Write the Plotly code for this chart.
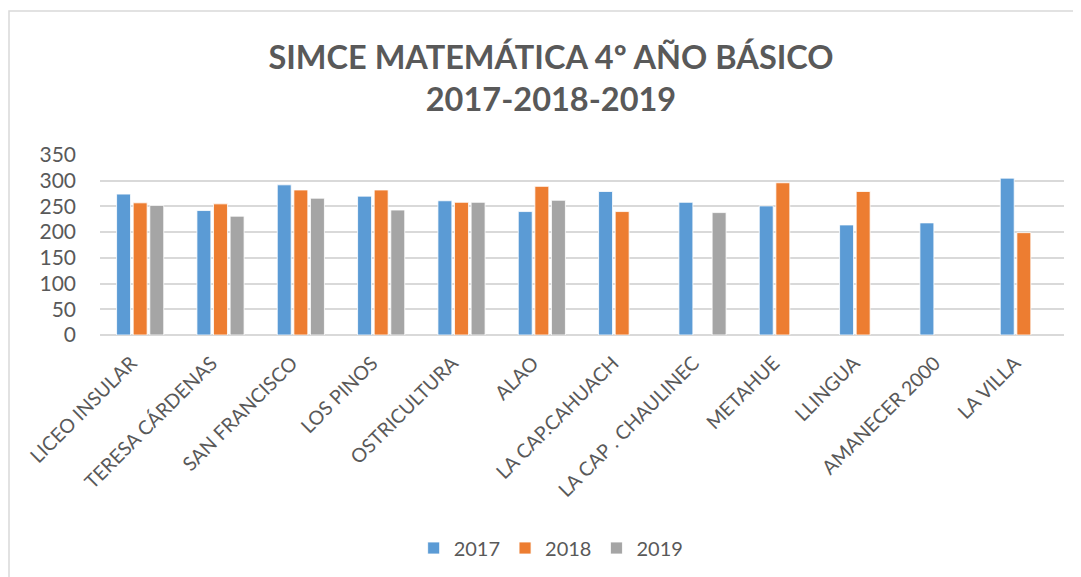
import plotly.graph_objects as go

categories = ["LICEO INSULAR", "TERESA CÁRDENAS", "SAN FRANCISCO", "LOS PINOS",
              "OSTRICULTURA", "ALAO", "LA CAP.CAHUACH", "LA CAP . CHAULINEC",
              "METAHUE", "LLINGUA", "AMANECER 2000", "LA VILLA"]
values_2017 = [274, 242, 292, 270, 261, 240, 279, 258, 251, 214, 218, 305]
values_2018 = [257, 255, 282, 282, 258, 289, 240, None, 296, 279, None, 199]
values_2019 = [252, 231, 266, 243, 258, 262, None, 238, None, None, None, None]
y_ticks = [0, 50, 100, 150, 200, 250, 300, 350]

FONT = "Lato"
TXT = "#595959"

L, R, T, B = 92, 25, 147, 250
PW, PH = 1081 - L - R, 577 - T - B

fig = go.Figure()
for name, vals, col in [("2017", values_2017, "#5B9BD5"),
                        ("2018", values_2018, "#ED7D31"),
                        ("2019", values_2019, "#A5A5A5")]:
    fig.add_trace(go.Bar(x=categories, y=vals, name=name,
                         marker=dict(color=col, line=dict(color="white", width=0.8))))

fig.update_layout(
    width=1081, height=577,
    margin=dict(l=L, r=R, t=T, b=B, autoexpand=False),
    paper_bgcolor="white", plot_bgcolor="white",
    barmode="group", bargap=0.38, bargroupgap=0.16,
    font=dict(family=FONT, color=TXT),
    title=dict(text="<b>SIMCE MATEMÁTICA 4º AÑO BÁSICO<br>2017-2018-2019</b>",
               x=(551 - 8 - L) / PW, xanchor="center", xref="paper",
               yref="container", y=1 - 61 / 577, yanchor="middle",
               font=dict(family=FONT, size=32.5, color=TXT)),
    showlegend=True,
    legend=dict(orientation="h", x=0.468, xanchor="center",
                y=-(540 - T - PH) / PH, yanchor="middle",
                font=dict(family=FONT, size=20, color=TXT), itemwidth=30,
                traceorder="normal"),
    xaxis=dict(tickangle=-45, tickfont=dict(family=FONT, size=19.5, color=TXT),
               showgrid=False, showline=False, ticks="", ticklabelstandoff=12,
               ticklabelshift=-9, fixedrange=True),
    yaxis=dict(range=[0, 350], tickvals=y_ticks, showgrid=True, gridcolor="#D9D9D9",
               gridwidth=1.5, zeroline=True, zerolinecolor="#D9D9D9", zerolinewidth=1.5,
               tickfont=dict(family=FONT, size=21, color=TXT), ticklabelstandoff=23,
               showline=False, ticks=""),
    shapes=[dict(type="rect", xref="paper", yref="paper",
                 x0=(1 - L) / PW, x1=(1090 - L) / PW,
                 y0=-(600 - T - PH) / PH, y1=1 + (T - 3) / PH,
                 line=dict(color="#D9D9D9", width=1.5), fillcolor="rgba(0,0,0,0)",
                 layer="below")],
)

fig.write_html("out.html")
